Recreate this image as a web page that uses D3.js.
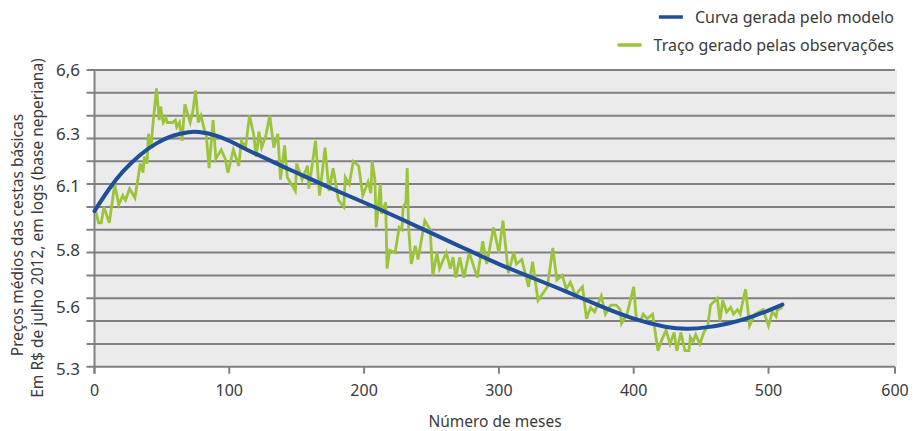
<!DOCTYPE html>
<html>
<head>
<meta charset="utf-8">
<script src="https://cdn.jsdelivr.net/npm/d3@7"></script>
<style>
  html, body { margin: 0; padding: 0; background: #ffffff; }
  svg { display: block; }
  text { font-family: "Noto Sans", "Open Sans", sans-serif; fill: #3a3a3a; }
</style>
</head>
<body>
<svg id="chart" width="913" height="431"></svg>
<script>
// ---------- DATA ----------
const xTicks = [0, 100, 200, 300, 400, 500, 600];
const yGridValues = [5.3, 5.4, 5.5, 5.6, 5.7, 5.8, 5.9, 6.0, 6.1, 6.2, 6.3, 6.4, 6.5, 6.6];
const yTickLabels = ["6,6", "6.3", "6.1", "5.8", "5.6", "5.3"];
const yTickLabelValues = [6.6, 6.32, 6.09, 5.81, 5.56, 5.29];

const seriesNames = ["Curva gerada pelo modelo", "Traço gerado pelas observações"];

// model curve (months, log price)
const modelMonths = [0, 11, 21, 34, 46, 58, 71, 76, 91, 104, 113, 125, 137, 150, 175, 200, 225, 250, 275, 300, 325, 350, 375, 400, 425, 440, 455, 470, 485, 500, 511];
const modelValues = [5.982, 6.083, 6.158, 6.232, 6.281, 6.315, 6.330, 6.331, 6.315, 6.279, 6.250, 6.219, 6.184, 6.150, 6.082, 6.020, 5.954, 5.885, 5.817, 5.748, 5.689, 5.630, 5.565, 5.507, 5.470, 5.464, 5.472, 5.488, 5.512, 5.546, 5.572];

// observations (months, log price)
const obsMonths = [1,3,5,7,11,15,18,21,23,26,30,34,36,37,39,40,42,43,46,48,49,51,53,54,56,58,60,61,63,65,67,69,71,73,75,77,79,81,83,85,88,90,94,97,99,103,107,109,112,115,118,120,122,124,127,130,133,136,138,141,143,149,150,154,158,159,164,167,171,174,177,181,185,186,189,192,196,199,203,205,206,208,209,212,213,216,217,219,223,226,228,229,231,232,233,235,238,240,245,249,251,254,256,261,264,266,268,271,274,278,284,288,291,296,300,303,307,311,313,317,322,325,329,336,340,343,347,350,353,357,359,362,365,368,371,376,379,383,387,390,391,395,400,402,405,407,410,414,415,418,421,424,427,430,432,435,438,441,442,444,446,449,452,455,457,462,464,466,469,472,474,477,479,480,483,486,490,493,496,500,503,506,507,511];
const obsValues = [5.98,5.93,5.93,6.00,5.93,6.10,6.01,6.05,6.03,6.08,6.04,6.19,6.15,6.22,6.19,6.32,6.26,6.34,6.52,6.38,6.44,6.37,6.39,6.37,6.37,6.37,6.38,6.35,6.37,6.29,6.45,6.41,6.37,6.42,6.51,6.37,6.40,6.35,6.31,6.17,6.38,6.21,6.25,6.21,6.15,6.25,6.18,6.29,6.26,6.40,6.32,6.22,6.33,6.26,6.31,6.40,6.26,6.32,6.12,6.27,6.13,6.07,6.19,6.12,6.18,6.08,6.29,6.05,6.26,6.07,6.17,6.03,6.00,6.13,6.10,6.20,6.18,6.05,6.11,6.06,6.20,6.12,5.91,6.10,5.97,6.02,5.73,5.81,5.80,5.91,5.90,6.00,6.02,6.17,5.91,5.75,5.83,5.77,5.94,5.90,5.70,5.80,5.73,5.80,5.73,5.78,5.69,5.78,5.69,5.80,5.69,5.85,5.75,5.91,5.80,5.94,5.71,5.80,5.75,5.77,5.65,5.76,5.59,5.65,5.82,5.68,5.70,5.64,5.67,5.61,5.63,5.65,5.51,5.56,5.54,5.61,5.53,5.57,5.57,5.55,5.49,5.53,5.65,5.51,5.50,5.53,5.51,5.53,5.49,5.37,5.42,5.46,5.40,5.45,5.37,5.45,5.37,5.37,5.43,5.41,5.44,5.40,5.45,5.48,5.57,5.60,5.50,5.59,5.54,5.56,5.53,5.55,5.53,5.56,5.64,5.48,5.53,5.54,5.55,5.48,5.54,5.52,5.55,5.56];

// ---------- CHART ----------
const svg = d3.select("#chart");
const blue = "#1f4e9b";
const green = "#9bc43b";
const gridColor = "#808080";

const x = d3.scaleLinear().domain([0, 500, 600]).range([94.5, 768.5, 895]);
const y = d3.scaleLinear().domain([5.3, 6.6]).range([366.7, 70]);

// plot background
svg.append("rect")
  .attr("x", x(0)).attr("y", y(6.6))
  .attr("width", x(600) + 2 - x(0)).attr("height", y(5.3) - y(6.6))
  .attr("fill", "#ebebeb");

// horizontal gridlines with left ticks
svg.append("g").selectAll("line").data(yGridValues).join("line")
  .attr("x1", x(0) - 8).attr("x2", x(600))
  .attr("y1", d => y(d)).attr("y2", d => y(d))
  .attr("stroke", gridColor).attr("stroke-width", 2);

// left axis line
svg.append("line")
  .attr("x1", x(0)).attr("x2", x(0))
  .attr("y1", y(6.6) - 1).attr("y2", y(5.3) + 7)
  .attr("stroke", gridColor).attr("stroke-width", 2);

// x ticks
svg.append("g").selectAll("line").data(xTicks).join("line")
  .attr("x1", d => x(d)).attr("x2", d => x(d))
  .attr("y1", y(5.3)).attr("y2", y(5.3) + 7)
  .attr("stroke", gridColor).attr("stroke-width", 2);

// x tick labels
svg.append("g").selectAll("text").data(xTicks).join("text")
  .attr("x", d => x(d)).attr("y", y(5.3) + 29)
  .attr("text-anchor", "middle")
  .attr("font-size", 16)
  .text(d => d);

// y tick labels
svg.append("g").selectAll("text").data(yTickLabels).join("text")
  .attr("x", 80).attr("y", (d, i) => y(yTickLabelValues[i]) + 6)
  .attr("text-anchor", "end")
  .attr("font-size", 17)
  .text(d => d);

// observations
const obs = obsMonths.map((m, i) => [m, obsValues[i]]);
svg.append("path")
  .datum(obs)
  .attr("fill", "none")
  .attr("stroke", green)
  .attr("stroke-width", 2.8)
  .attr("stroke-linejoin", "miter")
  .attr("d", d3.line().x(d => x(d[0])).y(d => y(d[1])));

// model curve
const model = modelMonths.map((m, i) => [m, modelValues[i]]);
svg.append("path")
  .datum(model)
  .attr("fill", "none")
  .attr("stroke", blue)
  .attr("stroke-width", 4)
  .attr("stroke-linecap", "round")
  .attr("d", d3.line().curve(d3.curveBasis).x(d => x(d[0])).y(d => y(d[1])));

// axis titles
svg.append("text")
  .attr("x", 495).attr("y", 427)
  .attr("text-anchor", "middle")
  .attr("font-size", 15.5)
  .text("Número de meses");

svg.append("text")
  .attr("transform", "translate(23,235) rotate(-90)")
  .attr("text-anchor", "middle")
  .attr("font-size", 15.5)
  .text("Preços médios das cestas básicas");

svg.append("text")
  .attr("transform", "translate(43,228) rotate(-90)")
  .attr("text-anchor", "middle")
  .attr("font-size", 15.5)
  .text("Em R$ de julho 2012, em logs (base neperiana)");

// legend
const legendColors = [blue, green];
const legendY = [17, 45];
seriesNames.forEach((name, i) => {
  const t = svg.append("text")
    .attr("x", 894).attr("y", legendY[i] + 6)
    .attr("text-anchor", "end")
    .attr("font-size", 16)
    .text(name);
  const w = t.node().getComputedTextLength();
  const start = 894 - w;
  svg.append("line")
    .attr("x1", start - 36).attr("x2", start - 12)
    .attr("y1", legendY[i]).attr("y2", legendY[i])
    .attr("stroke", legendColors[i]).attr("stroke-width", 3.5);
});
</script>
</body>
</html>
